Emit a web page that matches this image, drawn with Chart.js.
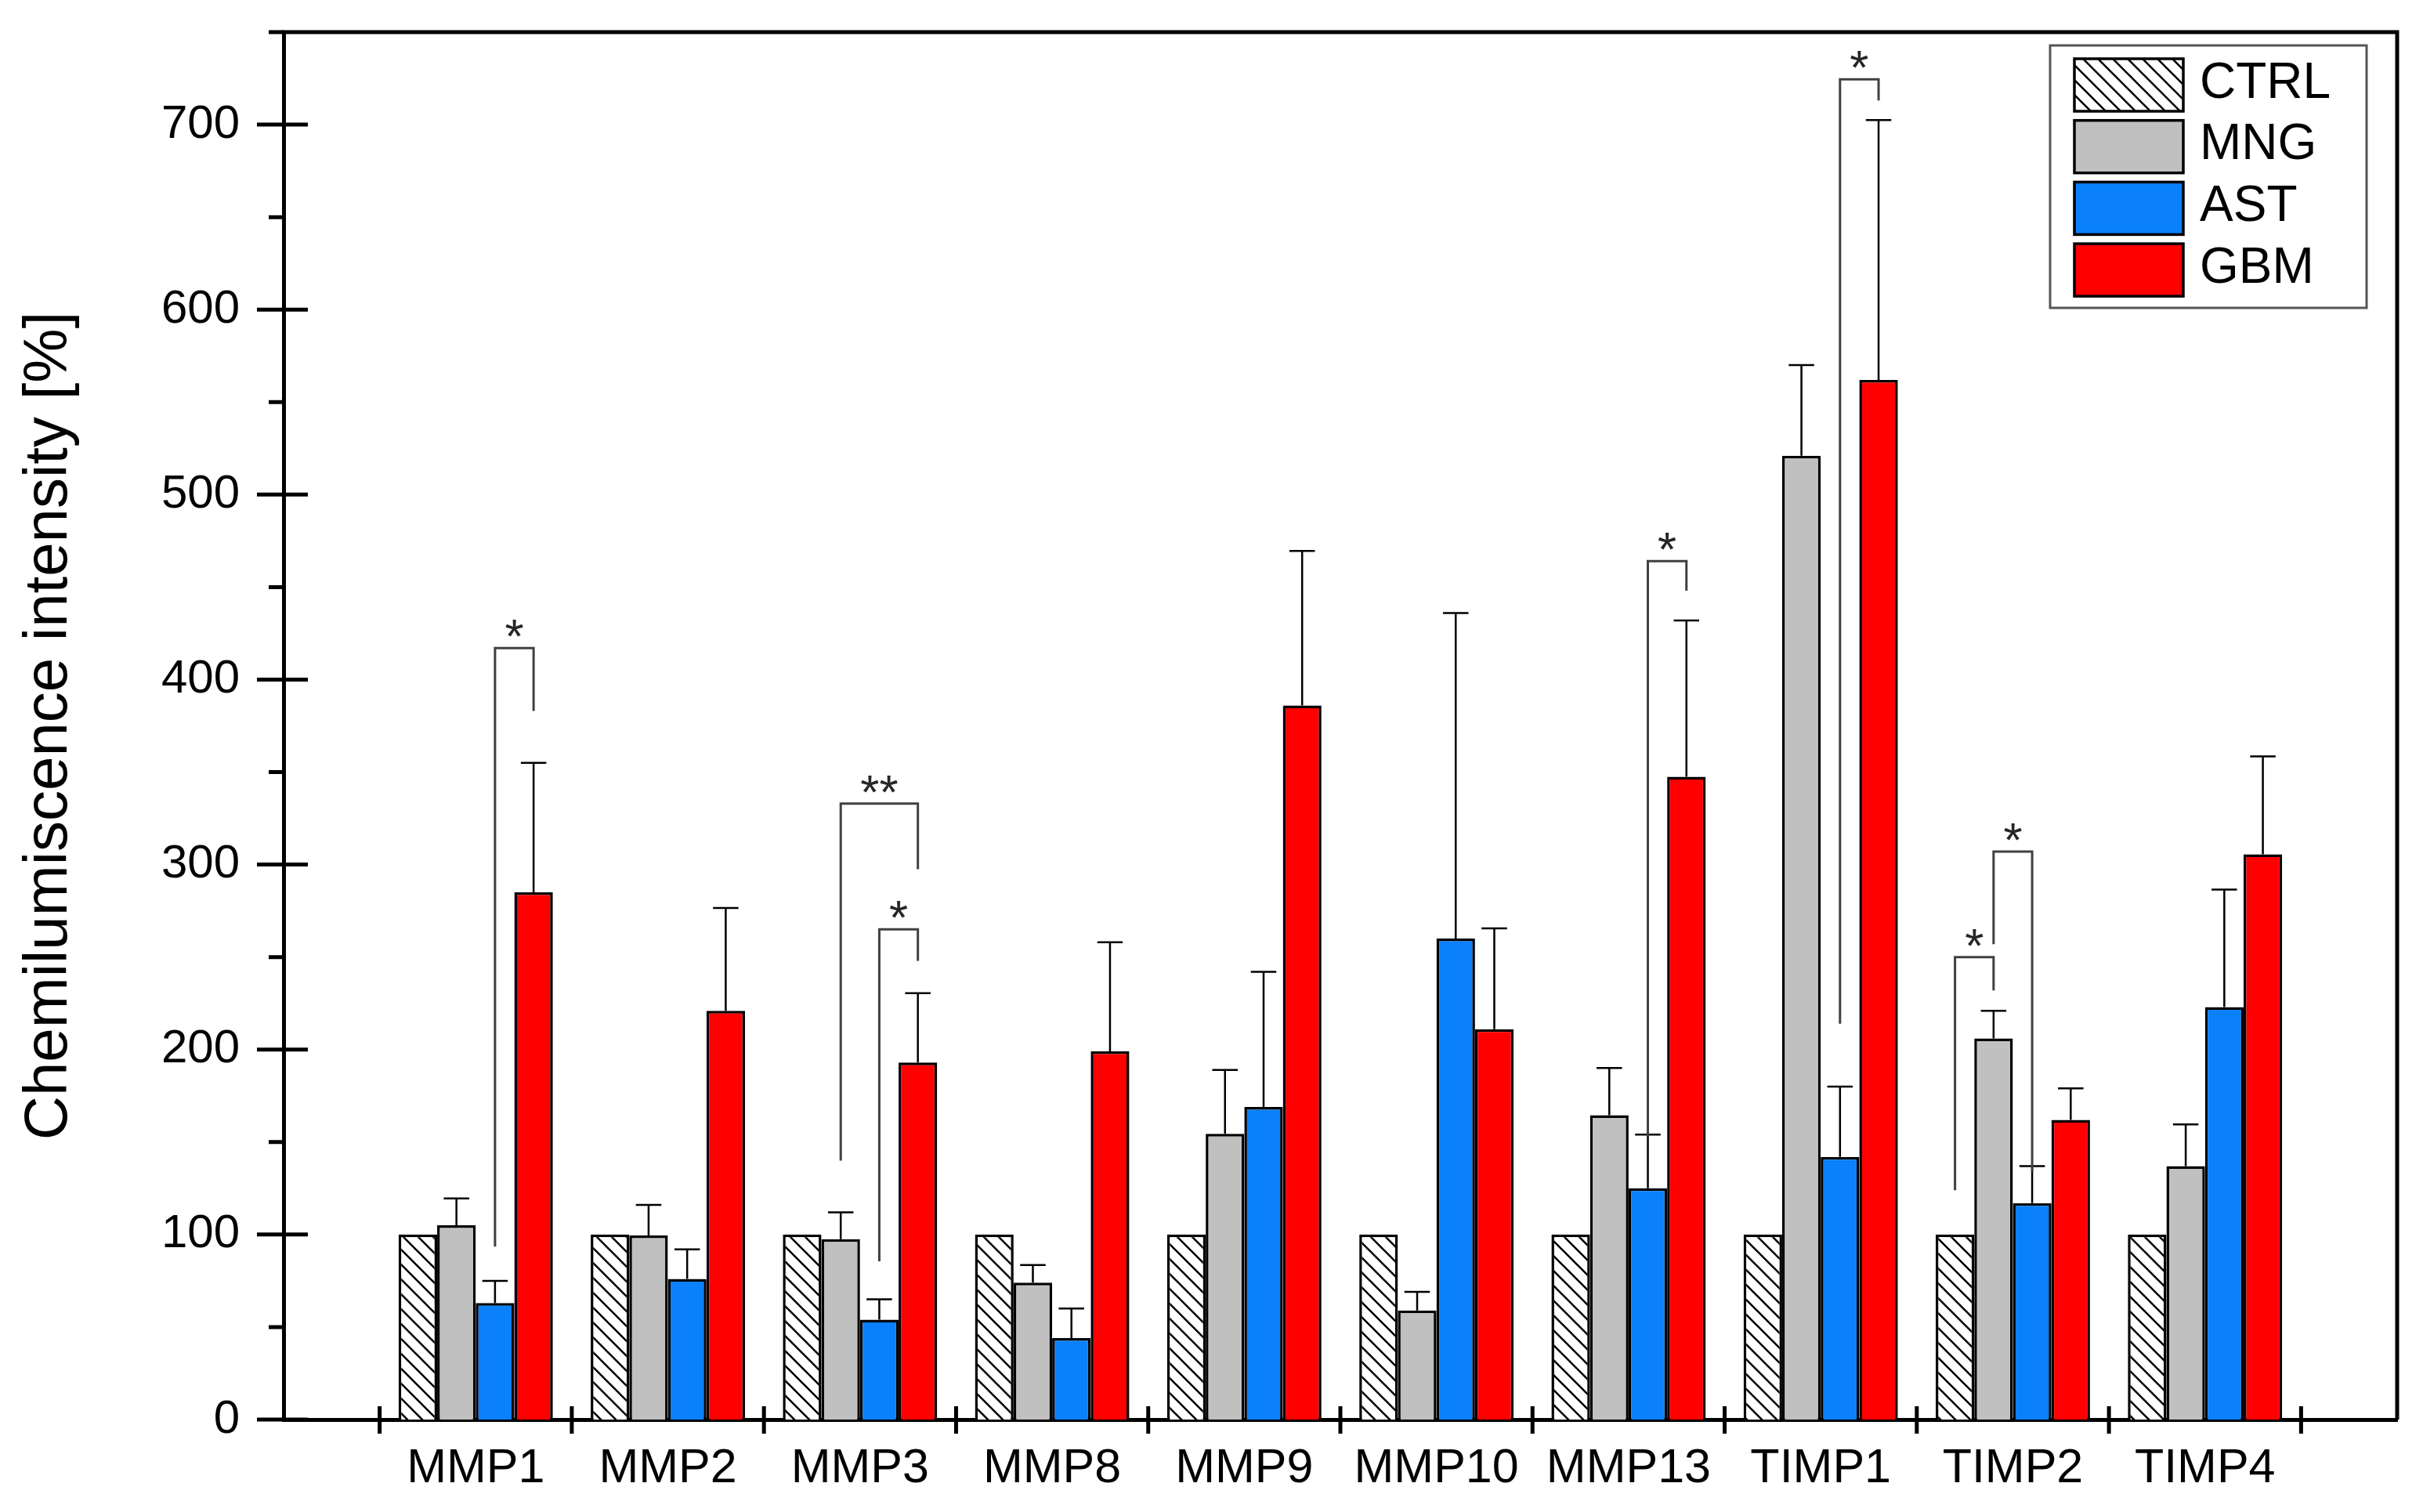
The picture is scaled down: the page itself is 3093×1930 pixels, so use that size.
<!DOCTYPE html>
<html><head><meta charset="utf-8">
<script src="https://cdn.jsdelivr.net/npm/chart.js@4.4.1/dist/chart.umd.min.js"></script>
<style>html,body{margin:0;padding:0;background:#fff;overflow:hidden}canvas{display:block}</style>
</head><body>
<canvas id="c" width="3093" height="1930" style="width:3093px;height:1930px"></canvas>
<script>
// ---- data ----
const categories = ['MMP1','MMP2','MMP3','MMP8','MMP9','MMP10','MMP13','TIMP1','TIMP2','TIMP4'];
const seriesNames = ['CTRL','MNG','AST','GBM'];
const ctrl = [100,100,100,100,100,100,100,100,100,100];
const mng  = [105,99.5,97.5,74,154.5,59,164.5,521,206,137];
const ast  = [63,76,54,44,169,260,125,142,117,223];
const gbm  = [285,221,193,199,386,211,347.5,562,162,305.5];
// upper end of the error bars (mean + SD)
const mngErr = [119.5,116,112,83.5,189,69,190,570,221,159.5];
const astErr = [75,92,65,60,242,436,154,180,137,286.5];
const gbmErr = [355,276.5,230.5,258,469.5,265.5,432,702.5,179,358.5];
const yMajorTicks = [0,100,200,300,400,500,600,700];
const yMinorTicks = [50,150,250,350,450,550,650,750];
// significance brackets
const sigCat      = [0,2,2,6,7,8,8];
const sigFrom     = [2,1,2,2,2,0,1];
const sigTo       = [3,3,3,3,3,1,2];
const sigTop      = [417,333,265,464,724.5,250,307];
const sigLeftEnd  = [93.5,140,85.5,153,214,124,257];
const sigRightEnd = [383,297.5,248,448,713,232,134];
const sigLabel    = ['*','**','*','*','*','*','*'];

const FONT = '"Liberation Sans", Arial, Helvetica, sans-serif';
Chart.defaults.color = '#000';
Chart.defaults.font.family = FONT;

const canvas = document.getElementById('c');
const mainCtx = canvas.getContext('2d');
function hatchPattern(){
  const s = 19;
  const t = document.createElement('canvas');
  t.width = s; t.height = s;
  const g = t.getContext('2d');
  g.fillStyle = '#fff'; g.fillRect(0,0,s,s);
  g.strokeStyle = '#000'; g.lineWidth = 2.6;
  g.beginPath();
  for (const k of [-1,0,1]) { g.moveTo(k*s-2,-2); g.lineTo(k*s+s+2,s+2); }
  g.stroke();
  return mainCtx.createPattern(t,'repeat');
}
const hatch = hatchPattern();
const colors = [hatch,'#c0c0c0','#0a80fa','#ff0000'];
const seriesVals = [ctrl,mng,ast,gbm];
const seriesErr = [null,mngErr,astErr,gbmErr];

const datasets = seriesNames.map((n,si)=>({
  label:n,
  data: categories.map((c,i)=>({x:i,y:seriesVals[si][i]})),
  backgroundColor: colors[si],
  borderColor:'#000',
  borderWidth:3.5,
  categoryPercentage:0.803,
  barPercentage:1.0
}));

const errPlugin = {
  id:'errbars',
  afterDatasetsDraw(chart){
    const ctx = chart.ctx, ys = chart.scales.y;
    seriesErr.forEach((arr,di)=>{
      if(!arr) return;
      chart.getDatasetMeta(di).data.forEach((bar,i)=>{
        const v = arr[i]; if(v==null) return;
        const yp = ys.getPixelForValue(v);
        const hw = bar.width*0.33;
        ctx.save();
        ctx.strokeStyle='#000'; ctx.lineWidth=2.5;
        ctx.beginPath();
        ctx.moveTo(bar.x,bar.y); ctx.lineTo(bar.x,yp);
        ctx.moveTo(bar.x-hw,yp); ctx.lineTo(bar.x+hw,yp);
        ctx.stroke();
        ctx.restore();
      });
    });
  }
};

const sigPlugin = {
  id:'sig',
  afterDatasetsDraw(chart){
    const ctx = chart.ctx, ys = chart.scales.y;
    sigCat.forEach((c,k)=>{
      const xl = chart.getDatasetMeta(sigFrom[k]).data[c].x;
      const xr = chart.getDatasetMeta(sigTo[k]).data[c].x;
      const yt = ys.getPixelForValue(sigTop[k]);
      ctx.save();
      ctx.strokeStyle='#404040'; ctx.lineWidth=3;
      ctx.beginPath();
      ctx.moveTo(xl, ys.getPixelForValue(sigLeftEnd[k]));
      ctx.lineTo(xl, yt); ctx.lineTo(xr, yt);
      ctx.lineTo(xr, ys.getPixelForValue(sigRightEnd[k]));
      ctx.stroke();
      ctx.fillStyle='#262626';
      ctx.font = '62px '+FONT;
      ctx.textAlign='center'; ctx.textBaseline='alphabetic';
      ctx.fillText(sigLabel[k], (xl+xr)/2, yt+6);
      ctx.restore();
    });
  }
};

const framePlugin = {
  id:'frame',
  afterDraw(chart){
    const ctx = chart.ctx, a = chart.chartArea, xs = chart.scales.x, ys = chart.scales.y;
    ctx.save();
    ctx.strokeStyle='#000'; ctx.lineWidth=5; ctx.lineCap='butt';
    ctx.beginPath();
    ctx.moveTo(a.left-2.5,a.top); ctx.lineTo(a.right+2.5,a.top);
    ctx.moveTo(a.right,a.top); ctx.lineTo(a.right,a.bottom);
    ctx.stroke();
    ctx.beginPath();
    yMajorTicks.forEach(v=>{const p=ys.getPixelForValue(v); ctx.moveTo(a.left-34,p); ctx.lineTo(a.left+31,p);});
    yMinorTicks.forEach(v=>{const p=ys.getPixelForValue(v); ctx.moveTo(a.left-19,p); ctx.lineTo(a.left,p);});
    for(let i=0;i<=categories.length;i++){
      const p = xs.getPixelForValue(i-0.5);
      ctx.moveTo(p,a.bottom-17); ctx.lineTo(p,a.bottom+18);
    }
    ctx.stroke();
    ctx.restore();
  }
};

const legendPlugin = {
  id:'boxlegend',
  afterDraw(chart){
    const ctx = chart.ctx, a = chart.chartArea;
    const bx = a.right-443, by = a.top+17, bw = 404, bh = 335;
    ctx.save();
    ctx.fillStyle='#fff'; ctx.fillRect(bx,by,bw,bh);
    ctx.strokeStyle='#555'; ctx.lineWidth=3; ctx.strokeRect(bx,by,bw,bh);
    chart.data.datasets.forEach((ds,i)=>{
      const sy = by+17+i*78.7;
      ctx.fillStyle = ds.backgroundColor;
      ctx.fillRect(bx+31,sy,139,67);
      ctx.strokeStyle='#000'; ctx.lineWidth=3.5;
      ctx.strokeRect(bx+31,sy,139,67);
      ctx.fillStyle='#000';
      ctx.font='64px '+FONT;
      ctx.textAlign='left'; ctx.textBaseline='middle';
      ctx.fillText(ds.label, bx+191, sy+32);
    });
    ctx.restore();
  }
};

function noPad(s){ s.paddingTop=0; s.paddingBottom=0; s.paddingLeft=0; s.paddingRight=0; }

new Chart(canvas,{
  type:'bar',
  data:{datasets},
  options:{
    responsive:false, animation:false, devicePixelRatio:1,
    layout:{padding:{left:0,top:41,right:33,bottom:0}},
    plugins:{legend:{display:false},tooltip:{enabled:false}},
    scales:{
      x:{
        type:'linear', min:-1, max:10, offset:false,
        afterFit(s){ s.height = 118; noPad(s); },
        grid:{display:false,drawTicks:false,offset:false},
        border:{display:true,color:'#000',width:5},
        ticks:{
          stepSize:1, autoSkip:false, maxRotation:0, padding:27,
          font:{size:61},
          callback:(v)=> (Number.isInteger(v) && v>=0 && v<categories.length) ? categories[v] : ''
        }
      },
      y:{
        min:0, max:750,
        afterFit(s){ s.width = 362; noPad(s); },
        grid:{display:false,drawTicks:false},
        border:{display:true,color:'#000',width:5},
        ticks:{
          stepSize:100, padding:56, font:{size:60},
          callback:(v)=> yMajorTicks.includes(v) ? String(v) : ''
        },
        title:{display:true,text:'Chemilumiscence intensity [%]',font:{size:78},padding:{top:17,bottom:0}}
      }
    }
  },
  plugins:[errPlugin,sigPlugin,framePlugin,legendPlugin]
});
</script>
</body></html>
